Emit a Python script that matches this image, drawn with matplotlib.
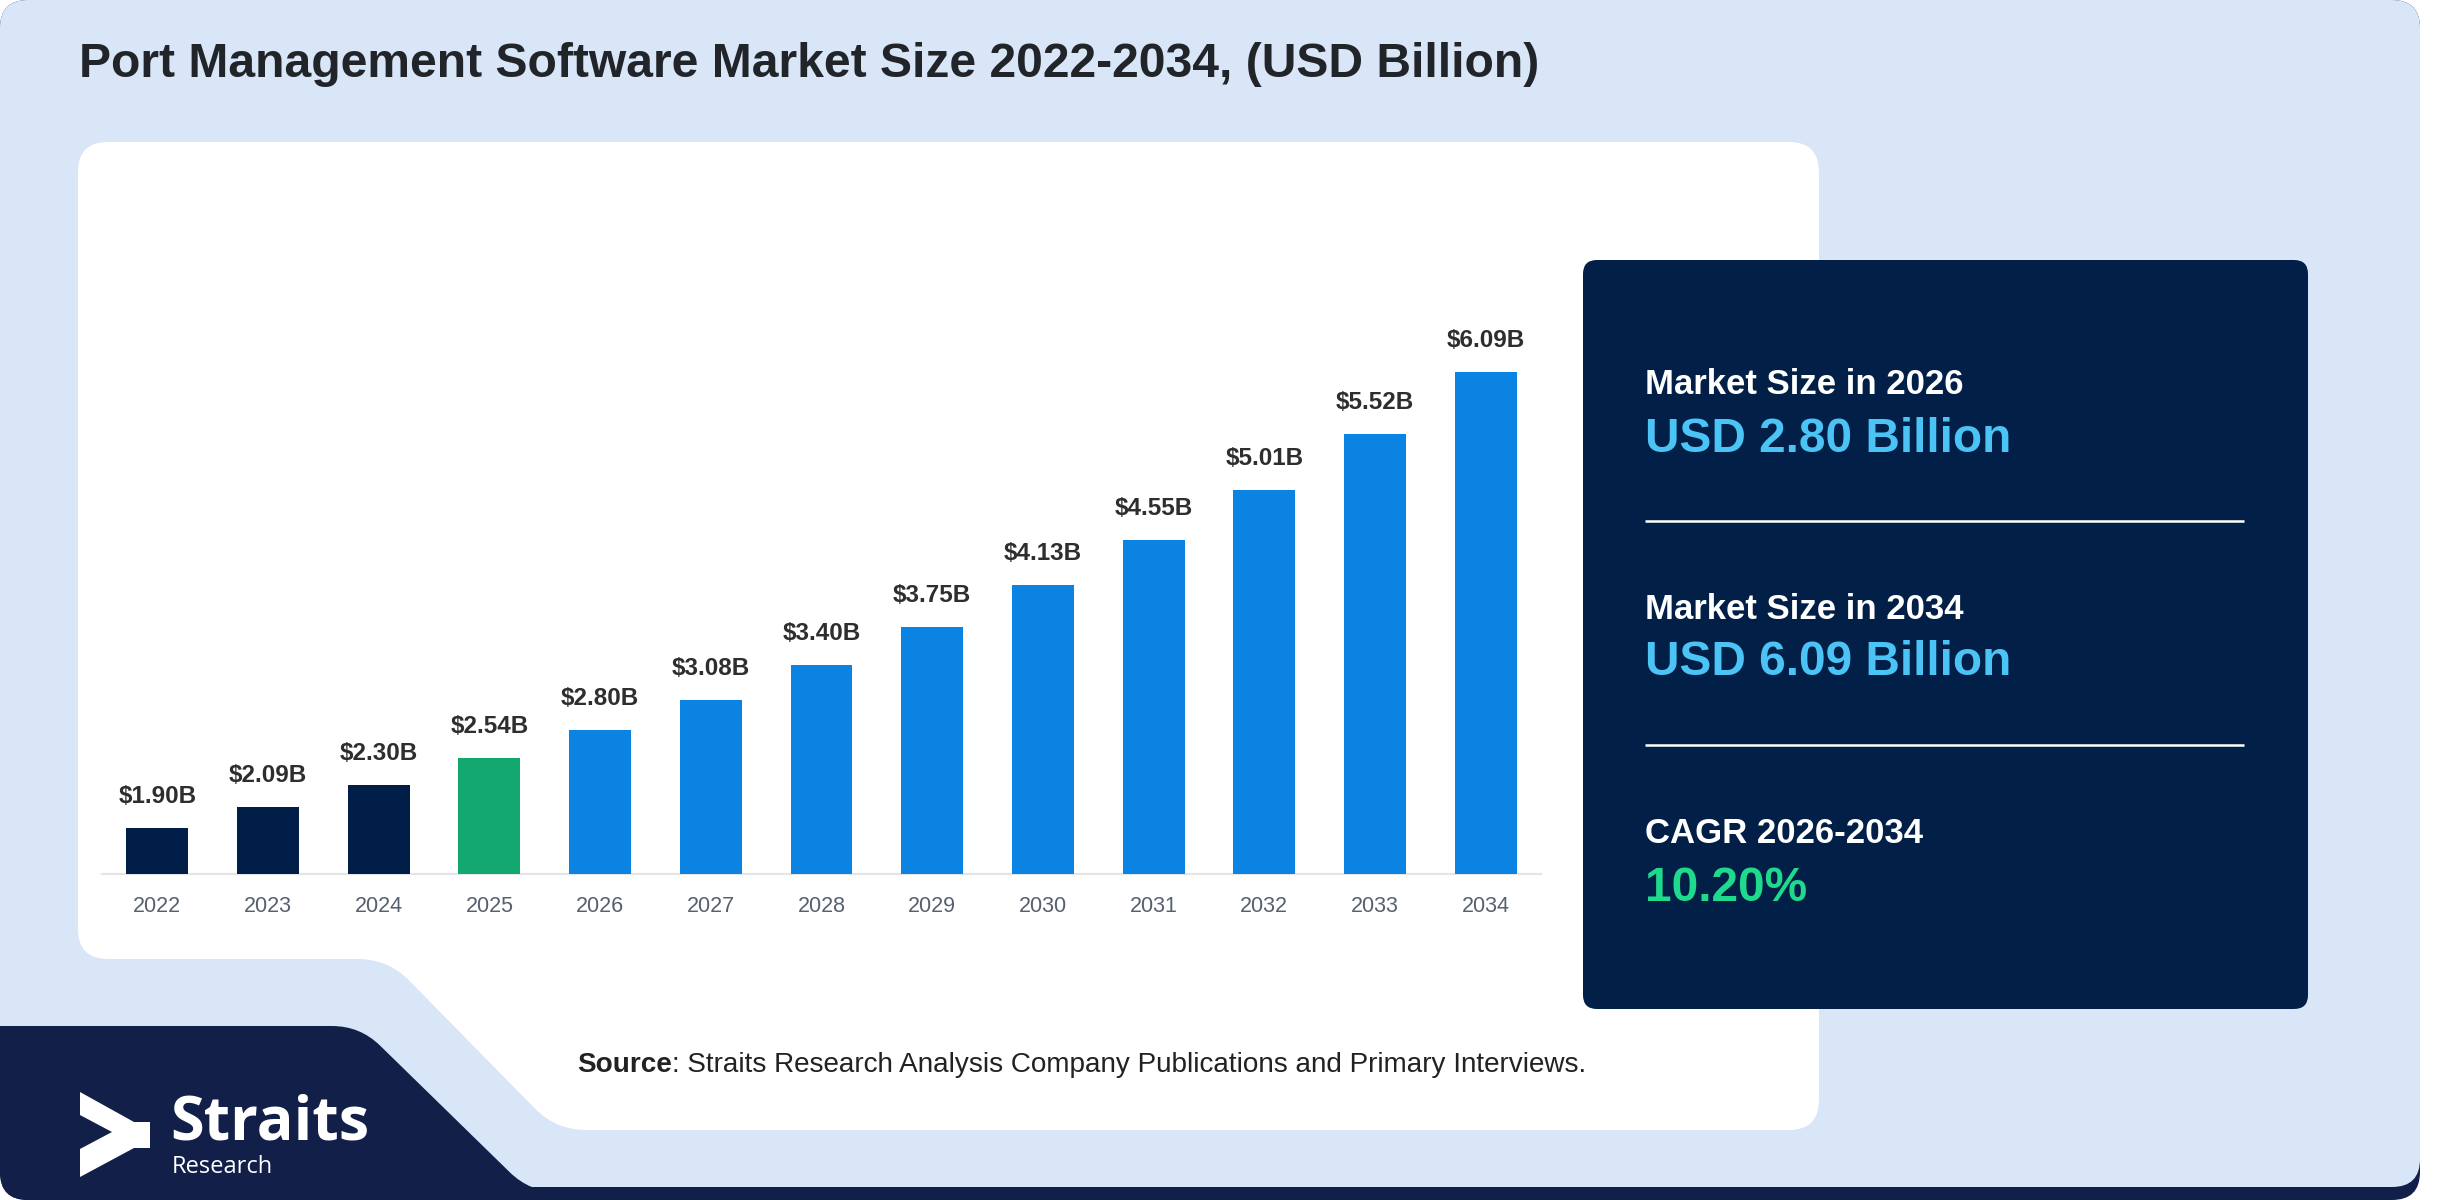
import numpy as np
import matplotlib
matplotlib.use("Agg")
import matplotlib.pyplot as plt
from matplotlib.path import Path
from matplotlib.patches import PathPatch, Polygon

plt.rcParams['font.family'] = ['Liberation Sans', 'DejaVu Sans']

# ---------------- data ----------------
years = ["2022", "2023", "2024", "2025", "2026", "2027", "2028",
         "2029", "2030", "2031", "2032", "2033", "2034"]
values = [1.90, 2.09, 2.30, 2.54, 2.80, 3.08, 3.40, 3.75, 4.13, 4.55, 5.01, 5.52, 6.09]
base_year = "2025"

title = "Port Management Software Market Size 2022-2034, (USD Billion)"
panel_heads = ["Market Size in 2026", "Market Size in 2034", "CAGR 2026-2034"]
panel_values = ["USD 2.80 Billion", "USD 6.09 Billion", "10.20%"]
source_bold = "Source"
source_rest = ": Straits Research Analysis Company Publications and Primary Interviews."

# ---------------- style ----------------
W, H = 2452, 1200
NAVY_BAR = "#001E48"
GREEN = "#12A870"
BLUE = "#0A83E2"
BG_BLUE = "#D9E6F8"
NAVY_BOTTOM = "#121F49"
NAVY_PANEL = "#011F47"
LIGHT_TXT = "#4CC3F5"
GREEN_TXT = "#1FD98C"

fig = plt.figure(figsize=(W / 100, H / 100), dpi=100)
fig.patch.set_facecolor("white")

bg = fig.add_axes([0, 0, 1, 1])
bg.set_xlim(0, W)
bg.set_ylim(H, 0)
bg.axis("off")


def rounded_path(pts, radii):
    pts = [np.array(p, float) for p in pts]
    n = len(pts)
    verts, codes = [], []
    for i in range(n):
        p0, p1, p2 = pts[i - 1], pts[i], pts[(i + 1) % n]
        r = radii[i] if np.ndim(radii) else radii
        d1 = p0 - p1
        d2 = p2 - p1
        l1, l2 = np.linalg.norm(d1), np.linalg.norm(d2)
        r = min(r, l1 / 2, l2 / 2)
        a = p1 + d1 / l1 * r
        b = p1 + d2 / l2 * r
        verts.append(a)
        codes.append(Path.MOVETO if i == 0 else Path.LINETO)
        verts += [p1, b]
        codes += [Path.CURVE3, Path.CURVE3]
    verts.append(verts[0])
    codes.append(Path.CLOSEPOLY)
    return Path(verts, codes)


def add_shape(pts, radii, color, z):
    bg.add_patch(PathPatch(rounded_path(pts, radii), facecolor=color,
                           edgecolor="none", zorder=z))


# outer card (navy underlay gives the bottom band), light blue on top
add_shape([(0, 0), (2420, 0), (2420, 1200), (0, 1200)], 28, NAVY_BOTTOM, 1)
add_shape([(0, 0), (2420, 0), (2420, 1187), (0, 1187)], 28, BG_BLUE, 2)
# bottom-left navy shape
add_shape([(0, 1026), (360, 1026), (530, 1192), (800, 1192), (800, 1200), (0, 1200)],
          [0, 28, 28, 0, 0, 28], NAVY_BOTTOM, 3)
# white chart panel
add_shape([(78, 142), (1819, 142), (1819, 1130), (556, 1130), (388, 959), (78, 959)],
          30, "white", 3)
# right navy info panel
add_shape([(1583, 260), (2308, 260), (2308, 1009), (1583, 1009)], 14, NAVY_PANEL, 4)

# logo arrow
logo = [(80, 1092), (134, 1122), (150, 1122), (150, 1148), (134, 1148),
        (80, 1177), (80, 1149), (112, 1132), (80, 1115)]
bg.add_patch(Polygon(logo, closed=True, facecolor="white", edgecolor="none", zorder=5))
bg.text(170, 1139, "Straits", fontsize=44, fontweight="bold", color="white",
        family=["Open Sans", "DejaVu Sans"], va="baseline", ha="left", zorder=6)
bg.text(172, 1173, "Research", fontsize=17, color="white",
        family=["Open Sans", "DejaVu Sans"], va="baseline", ha="left", zorder=6)

# title
bg.text(79, 77, title, fontsize=34.6, fontweight="bold", color="#212529",
        va="baseline", ha="left", zorder=6)

# right panel texts
head_y = [394, 619, 843]
val_y = [452, 675, 901]
val_colors = [LIGHT_TXT, LIGHT_TXT, GREEN_TXT]
for h, v, hy, vy, c in zip(panel_heads, panel_values, head_y, val_y, val_colors):
    bg.text(1645, hy, h, fontsize=25, fontweight="bold", color="white",
            va="baseline", ha="left", zorder=6)
    bg.text(1645, vy, v, fontsize=34.4, fontweight="bold", color=c,
            va="baseline", ha="left", zorder=6)
for ly in [521, 745]:
    bg.plot([1645, 2244], [ly, ly], color="white", lw=1.8, zorder=6,
            solid_capstyle="butt")

# source text
t1 = bg.text(577, 1072, source_bold, fontsize=20.1, fontweight="bold", color="#222222",
             va="baseline", ha="left", zorder=6)
renderer = fig.canvas.get_renderer()
bb = t1.get_window_extent(renderer)
x_end = bg.transData.inverted().transform((bb.x1, bb.y0))[0]
bg.text(x_end, 1072, source_rest, fontsize=20.1, color="#222222",
        va="baseline", ha="left", zorder=6)

# ---------------- bar chart ----------------
ax_left, ax_right = 102, 1541
ax_bottom, ax_top = 874, 300
ax = fig.add_axes([ax_left / W, 1 - ax_bottom / H,
                   (ax_right - ax_left) / W, (ax_bottom - ax_top) / H])
ax.set_facecolor("none")
ax.set_zorder(10)

x = np.arange(len(years))
base_idx = years.index(base_year)
colors = [NAVY_BAR if i < base_idx else (GREEN if i == base_idx else BLUE)
          for i in range(len(years))]
ax.bar(x, values, width=0.56, color=colors, zorder=3)

ax.set_xlim(-0.5, len(years) - 0.5)
ax.set_ylim(1.478, 1.478 + (ax_bottom - ax_top) / 108.8)

for xi, v in zip(x, values):
    ax.annotate(f"${v:.2f}B", xy=(xi, v), xytext=(0, 18), textcoords="offset points",
                ha="center", va="baseline", fontsize=17.5, fontweight="bold",
                color="#2E2E2E")

ax.set_xticks(x)
ax.set_xticklabels(years, fontsize=15.5, color="#56606E")
ax.tick_params(axis="x", length=0, pad=16)
ax.set_yticks([])
for s in ["left", "right", "top"]:
    ax.spines[s].set_visible(False)
ax.spines["bottom"].set_color("#E3E5E9")
ax.spines["bottom"].set_linewidth(1.6)

fig.savefig("out.png", dpi=100, facecolor="white")
